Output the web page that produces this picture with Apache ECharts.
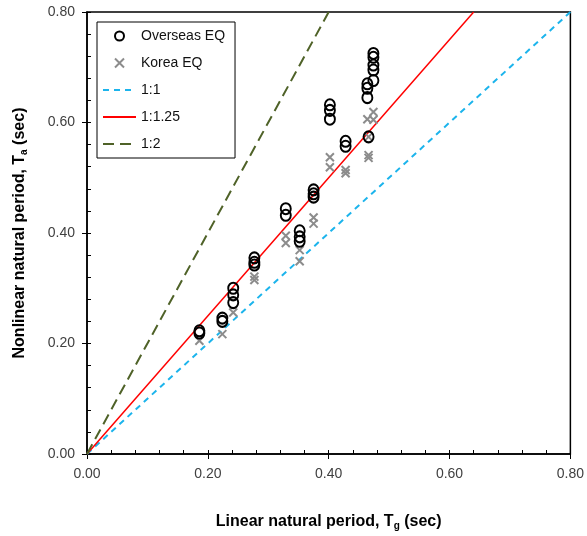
<!DOCTYPE html>
<html>
<head>
<meta charset="utf-8">
<script src="https://cdn.jsdelivr.net/npm/echarts@6/dist/echarts.min.js"></script>
<style>
  html, body { margin: 0; padding: 0; background: #fff; }
  #chart { width: 587px; height: 536px; }
</style>
</head>
<body>
<div id="chart"></div>
<script>
// data: [linear period Tg, nonlinear period Ta]
const overseasEQ = [
    [0.186, 0.223], [0.186, 0.219],
    [0.224, 0.246], [0.224, 0.240],
    [0.242, 0.300], [0.242, 0.288], [0.242, 0.274],
    [0.277, 0.355], [0.277, 0.347], [0.277, 0.342],
    [0.329, 0.444], [0.329, 0.432],
    [0.352, 0.404], [0.352, 0.393], [0.352, 0.385],
    [0.375, 0.478], [0.375, 0.471], [0.375, 0.465],
    [0.402, 0.632], [0.402, 0.622], [0.402, 0.606],
    [0.428, 0.566], [0.428, 0.557],
    [0.464, 0.670], [0.464, 0.662], [0.464, 0.645], [0.466, 0.574],
    [0.474, 0.725], [0.474, 0.718], [0.474, 0.704], [0.474, 0.695], [0.474, 0.676]
];
const koreaEQ = [
    [0.186, 0.205],
    [0.224, 0.217],
    [0.242, 0.256],
    [0.277, 0.321], [0.277, 0.315],
    [0.329, 0.395], [0.329, 0.382],
    [0.352, 0.369], [0.352, 0.349],
    [0.375, 0.428], [0.375, 0.417],
    [0.402, 0.537], [0.402, 0.519],
    [0.428, 0.514], [0.428, 0.508],
    [0.464, 0.606], [0.466, 0.574], [0.466, 0.541], [0.466, 0.536],
    [0.474, 0.619], [0.474, 0.605]
];
// reference lines Ta = slope * Tg
const refNames = ['1:1', '1:1.25', '1:2'];
const refSlopes = [1, 1.25, 2];
const axisMax = 0.8;

const font = 'Arial, "Liberation Sans", sans-serif';

function refLine(slope) {
    const xEnd = Math.min(axisMax, axisMax / slope);
    return [[0, 0], [xEnd, xEnd * slope]];
}

const lineStyles = [
    { color: '#1cb4ec', width: 2, type: [6, 5] },
    { color: '#ff0000', width: 1.5, type: 'solid' },
    { color: '#4f6228', width: 2, type: [11, 6] }
];

const chart = echarts.init(document.getElementById('chart'));

const fmt = v => v.toFixed(2);

// legend: hide the dot that line series add to their icon
const legendData = [
    { name: 'Overseas EQ' },
    { name: 'Korea EQ' }
].concat(refNames.map(n => ({ name: n, itemStyle: { opacity: 0 } })));

const option = {
    animation: false,
    textStyle: { fontFamily: font },
    grid: {
        left: 87, right: 14, top: 12, bottom: 82,
        show: true, borderColor: '#000', borderWidth: 1.5,
        containLabel: false
    },
    legend: {
        orient: 'vertical',
        left: 97, top: 22,
        padding: [7, 10, 7, 5],
        itemWidth: 33, itemHeight: 9, itemGap: 13,
        borderColor: '#000', borderWidth: 1,
        textStyle: { fontFamily: font, fontSize: 14, color: '#111' },
        data: legendData
    },
    xAxis: [{
        type: 'value', min: 0, max: axisMax, interval: 0.2,
        name: 'Linear natural period, T{sub|g} (sec)',
        nameLocation: 'middle', nameGap: 58,
        nameTextStyle: {
            fontFamily: font, fontSize: 16, fontWeight: 'bold', color: '#000',
            rich: { sub: { fontSize: 10, fontWeight: 'bold', padding: [9, 0, 0, 0] } }
        },
        axisLine: { show: true, lineStyle: { color: '#000', width: 1.5 } },
        axisTick: { show: true, inside: false, length: 5, lineStyle: { color: '#000' } },
        axisLabel: { formatter: fmt, fontSize: 14, color: '#404040', margin: 13 },
        splitLine: { show: false }
    }, {
        // inside minor ticks
        type: 'value', min: 0, max: axisMax, interval: 0.04, position: 'bottom',
        axisLine: { show: false },
        axisTick: { show: true, inside: true, length: 4, lineStyle: { color: '#000' } },
        axisLabel: { show: false },
        splitLine: { show: false }
    }],
    yAxis: [{
        type: 'value', min: 0, max: axisMax, interval: 0.2,
        name: 'Nonlinear natural period, T{sub|a} (sec)',
        nameLocation: 'middle', nameGap: 58,
        nameTextStyle: {
            fontFamily: font, fontSize: 16, fontWeight: 'bold', color: '#000',
            rich: { sub: { fontSize: 10, fontWeight: 'bold', padding: [9, 0, 0, 0] } }
        },
        axisLine: { show: true, lineStyle: { color: '#000', width: 1.5 } },
        axisTick: { show: true, inside: false, length: 5, lineStyle: { color: '#000' } },
        axisLabel: { formatter: fmt, fontSize: 14, color: '#404040', margin: 12 },
        splitLine: { show: false }
    }, {
        type: 'value', min: 0, max: axisMax, interval: 0.04, position: 'left',
        axisLine: { show: false },
        axisTick: { show: true, inside: true, length: 4, lineStyle: { color: '#000' } },
        axisLabel: { show: false },
        splitLine: { show: false }
    }],
    series: refNames.map((name, i) => ({
        name,
        type: 'line',
        data: refLine(refSlopes[i]),
        symbol: 'none',
        lineStyle: lineStyles[i],
        itemStyle: { color: lineStyles[i].color },
        z: 2
    })).concat([{
        name: 'Korea EQ',
        type: 'scatter',
        data: koreaEQ,
        symbol: 'path://M0,0L10,10M10,0L0,10',
        symbolSize: 8,
        itemStyle: { color: 'rgba(0,0,0,0)', borderColor: '#8c8c8c', borderWidth: 2, opacity: 1 },
        z: 3
    }, {
        name: 'Overseas EQ',
        type: 'scatter',
        data: overseasEQ,
        symbol: 'circle',
        symbolSize: [10, 11],
        itemStyle: { color: 'rgba(0,0,0,0)', borderColor: '#000', borderWidth: 2, opacity: 1 },
        z: 4
    }])
};

chart.setOption(option);
</script>
</body>
</html>
